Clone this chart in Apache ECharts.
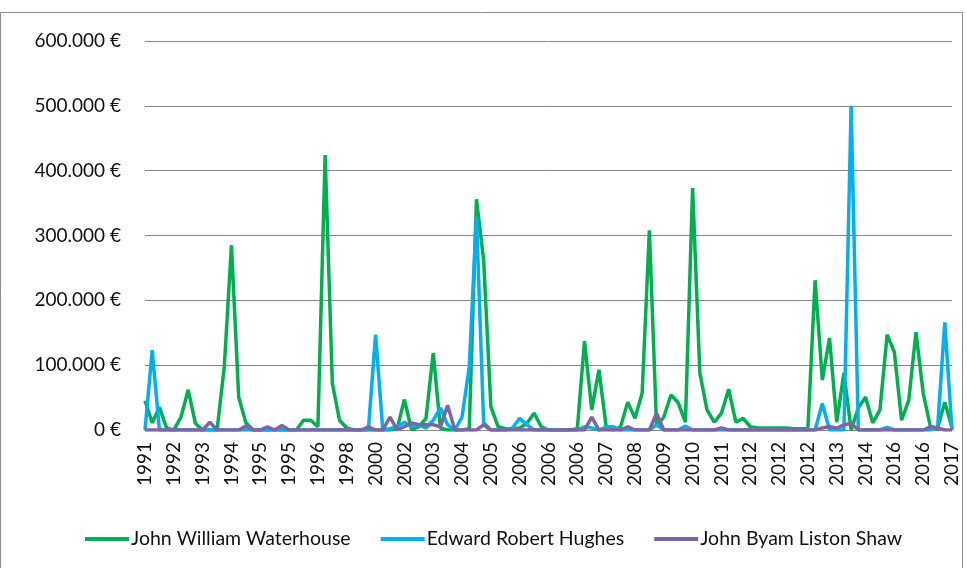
<!DOCTYPE html>
<html>
<head>
<meta charset="utf-8">
<script src="https://cdn.jsdelivr.net/npm/echarts@6/dist/echarts.min.js"></script>
<style>
  html, body { margin: 0; padding: 0; background: #fff; }
  #chart { width: 967px; height: 568px; }
</style>
</head>
<body>
<div id="chart"></div>
<script>
// tick labels shown every 4th category
const tickLabels = ['1991', '1992', '1993', '1994', '1995', '1995', '1996', '1998', '2000', '2002',
  '2003', '2004', '2005', '2006', '2006', '2006', '2007', '2008', '2009', '2010',
  '2011', '2012', '2012', '2012', '2013', '2014', '2016', '2016', '2017']

// values in thousands of euro
const waterhouse = [45, 11, 35, 3, 0, 20, 62, 10, 0, 0,
  0, 97, 285, 51, 11, 0, 0, 0, 0, 0,
  0, 0, 15, 15, 5, 424, 72, 15, 3, 0,
  0, 0, 0, 0, 0, 2, 47, 0, 5, 18,
  119, 3, 0, 0, 0, 2, 356, 262, 36, 5,
  2, 2, 3, 10, 26, 5, 0, 0, 0, 0,
  2, 137, 31, 93, 5, 0, 5, 43, 18, 57,
  308, 5, 20, 54, 42, 12, 373, 88, 31, 12,
  26, 63, 12, 18, 5, 3, 3, 3, 3, 3,
  2, 2, 2, 231, 77, 142, 12, 88, 0, 34,
  51, 11, 31, 147, 120, 15, 46, 151, 57, 5,
  3, 43, 3]

const hughes = [0, 123, 0, 0, 0, 0, 0, 0, 0, 0,
  0, 0, 0, 0, 0, 0, 0, 0, 0, 0,
  0, 0, 0, 0, 0, 0, 0, 0, 0, 0,
  0, 0, 147, 0, 2, 5, 12, 5, 8, 3,
  15, 34, 8, 0, 20, 97, 329, 11, 0, 0,
  0, 3, 18, 8, 0, 0, 0, 0, 0, 0,
  0, 5, 3, 0, 5, 5, 0, 0, 0, 0,
  0, 8, 0, 0, 0, 6, 0, 0, 0, 0,
  0, 0, 0, 0, 0, 0, 0, 0, 0, 0,
  0, 0, 0, 0, 41, 0, 0, 0, 500, 0,
  0, 0, 0, 4, 0, 0, 0, 0, 0, 0,
  3, 166, 0]

const shaw = [0, 0, 0, 0, 0, 0, 0, 0, 0, 12,
  0, 0, 0, 0, 6, 0, 0, 5, 0, 7,
  0, 0, 0, 0, 0, 0, 0, 0, 0, 0,
  0, 5, 0, 0, 20, 0, 5, 11, 8, 8,
  8, 5, 38, 0, 0, 0, 0, 8, 0, 0,
  0, 0, 0, 0, 0, 0, 0, 0, 0, 0,
  0, 0, 20, 0, 0, 0, 0, 5, 0, 0,
  0, 26, 0, 0, 0, 0, 0, 0, 0, 0,
  3, 0, 0, 0, 0, 0, 0, 0, 0, 0,
  0, 0, 0, 0, 3, 5, 3, 8, 10, 0,
  0, 0, 0, 0, 0, 0, 0, 0, 0, 5,
  3, 0, 0]

const categories = waterhouse.map((v, i) => tickLabels[Math.floor(i / 4)])
const toEuro = arr => arr.map(v => v * 1000)

const chart = echarts.init(document.getElementById('chart'))

const euro = (value) => {
  if (value === 0) return '0 €'
  return String(value).replace(/\B(?=(\d{3})+(?!\d))/g, '.') + ' €'
}

const lineSeries = (name, data, color) => ({
  name: name,
  type: 'line',
  data: toEuro(data),
  symbol: 'none',
  lineStyle: { width: 3.5, color: color },
  itemStyle: { color: color },
  animation: false
})

chart.setOption({
  backgroundColor: '#fff',
  textStyle: { fontFamily: 'Lato' },
  graphic: [
    {
      type: 'rect',
      shape: { x: 0.5, y: 12.5, width: 962, height: 600 },
      style: { fill: 'none', stroke: '#8a8a8a', lineWidth: 1 },
      silent: true
    }
  ],
  grid: {
    left: 145,
    right: 15,
    top: 41,
    bottom: 138
  },
  legend: {
    bottom: 14,
    left: 80,
    icon: 'rect',
    itemWidth: 44,
    itemHeight: 4,
    itemGap: 30,
    textStyle: { fontFamily: 'Lato', fontSize: 19.5, color: '#111', padding: [0, 0, 0, -3] },
    data: ['John William Waterhouse', 'Edward Robert Hughes', 'John Byam Liston Shaw']
  },
  xAxis: {
    type: 'category',
    boundaryGap: false,
    data: categories,
    axisLine: { show: true, lineStyle: { color: '#868686', width: 1 } },
    axisTick: { show: false },
    axisLabel: {
      interval: 3,
      rotate: 90,
      margin: 12,
      fontFamily: 'Lato',
      fontSize: 19,
      color: '#111'
    }
  },
  yAxis: {
    type: 'value',
    min: 0,
    max: 600000,
    interval: 100000,
    axisLine: { show: false },
    axisTick: { show: false },
    splitLine: { lineStyle: { color: '#868686', width: 1 } },
    axisLabel: {
      formatter: euro,
      margin: 24,
      fontFamily: 'Lato',
      fontSize: 19,
      color: '#111'
    }
  },
  series: [
    lineSeries('John William Waterhouse', waterhouse, '#00b050'),
    lineSeries('Edward Robert Hughes', hughes, '#00b0f0'),
    lineSeries('John Byam Liston Shaw', shaw, '#8064a2')
  ]
})
</script>
</body>
</html>
